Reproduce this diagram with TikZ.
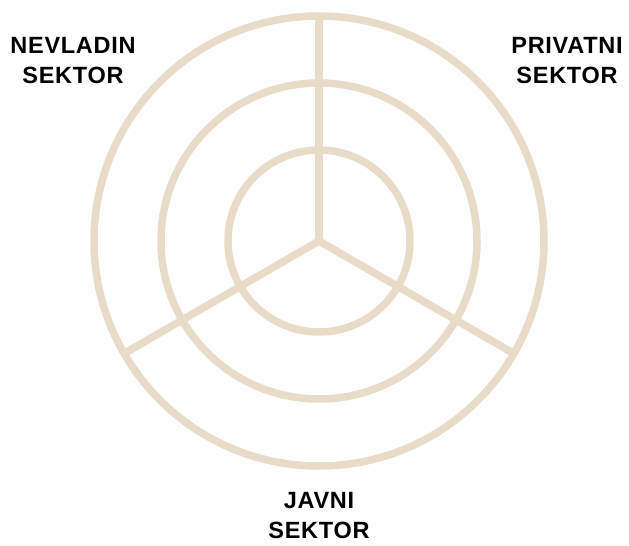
\documentclass[tikz,border=0pt]{standalone}
\usepackage{fontspec}
\setmainfont{Liberation Sans}
\newfontfamily\lblfont[LetterSpace=3]{Liberation Sans}
\definecolor{ring}{HTML}{E8DCC8}
\begin{document}
\begin{tikzpicture}[x=1pt,y=-1pt,
  ringline/.style={draw=ring,line width=7.5pt},
  lbl/.style={font=\lblfont\bfseries\fontsize{23.5}{30}\selectfont,align=center,inner sep=0pt,text=black}]
\useasboundingbox (0,0) rectangle (629,546);
\coordinate (c) at (319,241);
\draw[ringline] (c) circle[radius=225];
\draw[ringline] (c) circle[radius=158];
\draw[ringline] (c) circle[radius=91];
\draw[ringline] (c) -- ++(0,-225) coordinate (top);
\draw[ringline] (c) -- ++(-194.9,112.5) coordinate (bl);
\draw[ringline] (c) -- ++(194.9,112.5) coordinate (br);
\node[lbl] (nev) at (73,61) {NEVLADIN\\SEKTOR};
\node[lbl] (pri) at (567,61) {PRIVATNI\\SEKTOR};
\node[lbl] (jav) at (319,516) {JAVNI\\SEKTOR};
\end{tikzpicture}
\end{document}
